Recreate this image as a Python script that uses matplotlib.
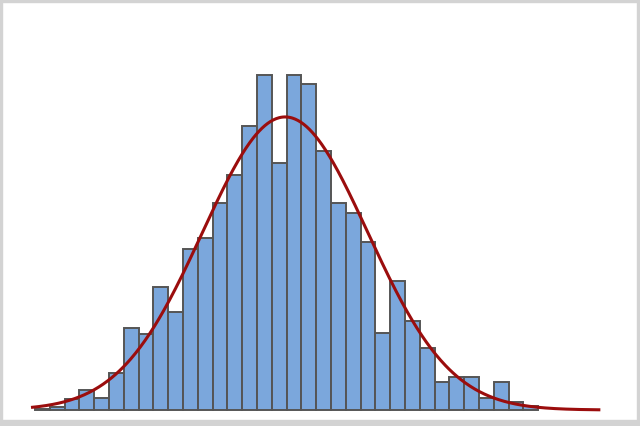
import numpy as np
import matplotlib
matplotlib.use("Agg")
import matplotlib.pyplot as plt
from matplotlib.patches import Rectangle

# Histogram bin counts (relative heights), one per bin, bins are unit width
counts = [1, 3, 11, 20, 12, 37, 82, 76, 123, 98, 161, 172, 207, 235, 284, 335,
          247, 335, 326, 259, 207, 197, 168, 77, 129, 89, 62, 28, 33, 33, 12,
          28, 8, 4]
bin_start = 0.0
bin_width = 1.0

# Fitted normal curve parameters (in bin units)
fit_mean = 16.9
fit_sd = 5.58
curve_range = (-0.27, 38.2)

fig = plt.figure(figsize=(6.4, 4.26), dpi=100)
ax = fig.add_axes([0, 0, 1, 1])

edges = bin_start + bin_width * np.arange(len(counts))
ax.bar(edges, counts, width=bin_width, align="edge", color="#7BA7DC",
       edgecolor="#555555", linewidth=1.4, zorder=2)

area = np.sum(counts) * bin_width
xs = np.linspace(curve_range[0], curve_range[1], 600)
ys = area / (fit_sd * np.sqrt(2 * np.pi)) * np.exp(-0.5 * ((xs - fit_mean) / fit_sd) ** 2)
ax.plot(xs, ys, color="#9B0D0D", linewidth=2.2, zorder=3, solid_capstyle="butt")

# map: pixel x = 35 + 14.8 * bin ; pixel height from baseline y=410
ax.set_xlim(-35 / 14.8, (640 - 35) / 14.8)
ax.set_ylim(-16, 410)
ax.axis("off")

# light gray frame around the figure
fc = "#D3D3D3"
fig.patches.extend([
    Rectangle((0, 0), 2 / 640, 1, transform=fig.transFigure, color=fc, zorder=10),
    Rectangle((0, 1 - 2 / 426), 1, 2 / 426, transform=fig.transFigure, color=fc, zorder=10),
    Rectangle((1 - 3 / 640, 0), 3 / 640, 1, transform=fig.transFigure, color=fc, zorder=10),
    Rectangle((0, 0), 1, 6 / 426, transform=fig.transFigure, color=fc, zorder=10),
])

fig.savefig("out.png", dpi=100, facecolor="white")
